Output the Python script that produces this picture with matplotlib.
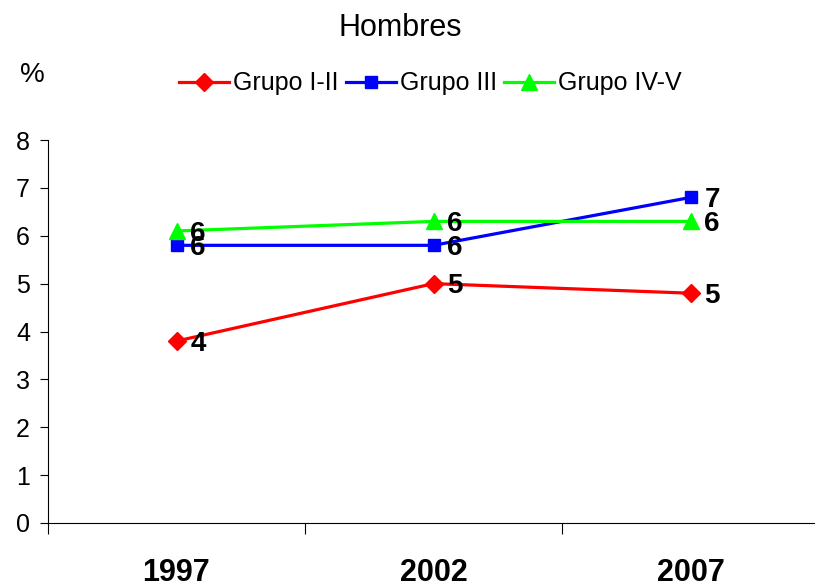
import numpy as np
import matplotlib.pyplot as plt

plt.rcParams['font.family'] = ['Liberation Sans', 'DejaVu Sans']

years = ['1997', '2002', '2007']
grupo_1_2 = [3.8, 5.0, 4.8]
grupo_3 = [5.8, 5.8, 6.8]
grupo_4_5 = [6.1, 6.3, 6.3]
series_names = ['Grupo I-II', 'Grupo III', 'Grupo IV-V']
colors = ['#ff0000', '#0000ff', '#00ff00']
markers = ['D', 's', '^']
msizes = [9, 8, 11]

fig = plt.figure(figsize=(8.15, 5.87), dpi=100)
ax = fig.add_axes([48 / 815, 64 / 587, 771 / 815, 383 / 587])

x = np.arange(len(years))
for vals, name, c, m, ms in zip([grupo_1_2, grupo_3, grupo_4_5], series_names, colors, markers, msizes):
    ax.plot(x, vals, color=c, lw=2.3, marker=m, ms=ms, label=name)
    for xi, v in zip(x, vals):
        ax.annotate(f'{v:.0f}', (xi, v), xytext=(10, -2), textcoords='offset points',
                    ha='left', va='center', fontsize=20, fontweight='bold')

ax.set_xlim(-0.5, 2.5)
ax.set_ylim(0, 8)
ax.set_yticks(range(0, 9))
ax.tick_params(axis='y', labelsize=18, length=6, direction='out', pad=7)

# category axis: ticks between categories, labels in the middle
ax.set_xticks([-0.5, 0.5, 1.5, 2.5])
ax.set_xticklabels([])
ax.set_xticks(x, minor=True)
ax.set_xticklabels(years, minor=True, fontsize=22, fontweight='bold')
ax.tick_params(axis='x', which='major', length=8, direction='out')
ax.tick_params(axis='x', which='minor', length=0, pad=25)

for s in ['top', 'right']:
    ax.spines[s].set_visible(False)

fig.text(0.491, 0.952, 'Hombres', ha='center', va='center', fontsize=22)
fig.text(0.04, 0.872, '%', ha='center', va='center', fontsize=20)
fig.legend(loc='center', bbox_to_anchor=(0.528, 0.858), ncol=3, frameon=False,
           fontsize=18, handlelength=2.0, columnspacing=0.3, handletextpad=0.15)

fig.savefig('out.png', dpi=100)
